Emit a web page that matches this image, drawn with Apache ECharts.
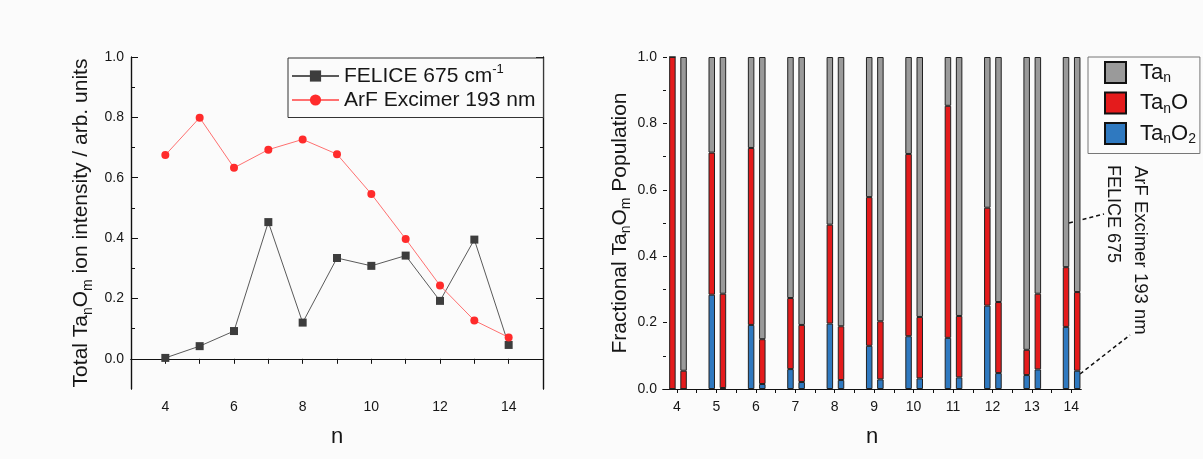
<!DOCTYPE html>
<html>
<head>
<meta charset="utf-8">
<script src="https://cdn.jsdelivr.net/npm/echarts@6/dist/echarts.min.js"></script>
<style>
html,body{margin:0;padding:0;background:#fbfbfb;}
#c{width:1203px;height:459px;}
</style>
</head>
<body>
<div id="c"></div>
<script>
// ---- data ----
const nValues = [4, 5, 6, 7, 8, 9, 10, 11, 12, 13, 14];
// left panel: total ion intensity
const feliceTotal = [0.003, 0.042, 0.092, 0.453, 0.120, 0.334, 0.308, 0.342, 0.192, 0.395, 0.046];
const arfTotal    = [0.675, 0.799, 0.633, 0.693, 0.727, 0.678, 0.546, 0.397, 0.243, 0.127, 0.071];
// right panel: fractional population (FELICE 675 = left bar, ArF 193 nm = right bar)
const feliceTaO2 = [0.000, 0.284, 0.193, 0.060, 0.197, 0.130, 0.159, 0.154, 0.251, 0.042, 0.187];
const feliceTaO  = [1.000, 0.428, 0.533, 0.214, 0.298, 0.448, 0.549, 0.699, 0.295, 0.076, 0.180];
const feliceTa   = [0.000, 0.288, 0.274, 0.726, 0.505, 0.422, 0.292, 0.147, 0.454, 0.882, 0.633];
const arfTaO2 = [0.000, 0.003, 0.015, 0.021, 0.027, 0.029, 0.032, 0.035, 0.048, 0.059, 0.055];
const arfTaO  = [0.055, 0.284, 0.135, 0.172, 0.162, 0.175, 0.185, 0.185, 0.214, 0.228, 0.237];
const arfTa   = [0.945, 0.713, 0.850, 0.807, 0.811, 0.796, 0.783, 0.780, 0.738, 0.713, 0.708];
// tick labels
const leftYLabels = [0, 0.2, 0.4, 0.6, 0.8, 1.0];
const leftYMinor  = [0.1, 0.3, 0.5, 0.7, 0.9];
const rightXTicks = [4, 4.5, 5, 5.5, 6, 6.5, 7, 7.5, 8, 8.5, 9, 9.5, 10, 10.5, 11, 11.5, 12, 12.5, 13, 13.5, 14];

const FONT = '"Liberation Sans", Arial, sans-serif';
const TXT = '#161616';
const pair = (xs, ys) => xs.map((x, i) => [x, ys[i]]);

const chart = echarts.init(document.getElementById('c'), null, {renderer: 'canvas'});

const C_GRAY = '#9a9a9a', C_RED = '#e41b1c', C_BLUE = '#2f79c0';
const nameRich = {
  t: {fontSize: 21, fontFamily: FONT, color: TXT, lineHeight: 27},
  s: {fontSize: 14, fontFamily: FONT, color: TXT, lineHeight: 14, verticalAlign: 'bottom'}
};
const tickLabel = {fontSize: 14, fontFamily: FONT, color: TXT};
const axLine = {show: true, lineStyle: {color: '#111', width: 1.2}};

function barSeries(name, stack, data, color) {
  return {
    type: 'bar', name: name, stack: stack, xAxisIndex: 4, yAxisIndex: 6,
    data: data, barWidth: 6.5, barGap: '72%',
    itemStyle: {color: color, borderColor: '#222', borderWidth: 1},
    emphasis: {disabled: true}
  };
}

const option = {
  backgroundColor: '#fbfbfb',
  animation: false,
  textStyle: {fontFamily: FONT},
  grid: [
    {left: 131, top: 57, width: 412, height: 332},
    {left: 663, top: 57, width: 418, height: 332},
    {left: 658.3, top: 57, width: 433, height: 332}
  ],
  xAxis: [
    {gridIndex: 0, type: 'value', position: 'bottom', min: 3, max: 15, interval: 1,
     axisLine: axLine, splitLine: {show: false},
     axisTick: {show: true, inside: false, length: 5, lineStyle: {color: '#111'}},
     axisLabel: Object.assign({margin: 11, formatter: v => (v % 2 === 0 && v >= 4 && v <= 14) ? String(v) : ''}, tickLabel),
     name: 'n', nameLocation: 'middle', nameGap: 37,
     nameTextStyle: {fontSize: 22, fontFamily: FONT, color: TXT}},
    {gridIndex: 0, type: 'value', position: 'top', min: 3, max: 15,
     axisLine: axLine, axisTick: {show: false}, axisLabel: {show: false}, splitLine: {show: false}},
    {gridIndex: 1, type: 'value', position: 'bottom', min: 3.645, max: 14.245,
     axisLine: axLine, splitLine: {show: false},
     axisTick: {show: true, inside: false, length: 4, customValues: rightXTicks, lineStyle: {color: '#111'}},
     axisLabel: Object.assign({margin: 11, customValues: nValues}, tickLabel),
     name: 'n', nameLocation: 'middle', nameGap: 37,
     nameTextStyle: {fontSize: 22, fontFamily: FONT, color: TXT}},
    {gridIndex: 1, type: 'value', position: 'top', min: 3.645, max: 14.245,
     axisLine: axLine, axisTick: {show: false}, axisLabel: {show: false}, splitLine: {show: false}},
    {gridIndex: 2, type: 'category', data: nValues, boundaryGap: true, show: false}
  ],
  yAxis: [
    {gridIndex: 0, type: 'value', position: 'left', min: -0.1, max: 1.0,
     axisLine: axLine, splitLine: {show: false},
     axisTick: {show: true, inside: true, length: 7, customValues: leftYLabels, lineStyle: {color: '#111'}},
     axisLabel: Object.assign({margin: 7, customValues: leftYLabels, formatter: v => v.toFixed(1)}, tickLabel),
     name: '{t|Total Ta}{s|n}{t|O}{s|m}{t| ion intensity / arb. units}',
     nameLocation: 'middle', nameGap: 36, nameTextStyle: {rich: nameRich}},
    {gridIndex: 0, type: 'value', position: 'left', min: -0.1, max: 1.0,
     axisLine: axLine, splitLine: {show: false}, axisLabel: {show: false},
     axisTick: {show: true, inside: true, length: 4, customValues: leftYMinor, lineStyle: {color: '#111'}}},
    {gridIndex: 0, type: 'value', position: 'right', min: -0.1, max: 1.0,
     axisLine: axLine, splitLine: {show: false}, axisLabel: {show: false},
     axisTick: {show: true, inside: true, length: 7, customValues: leftYLabels, lineStyle: {color: '#111'}}},
    {gridIndex: 0, type: 'value', position: 'right', min: -0.1, max: 1.0,
     axisLine: axLine, splitLine: {show: false}, axisLabel: {show: false},
     axisTick: {show: true, inside: true, length: 3, customValues: leftYMinor, lineStyle: {color: '#111'}}},
    {gridIndex: 1, type: 'value', position: 'left', min: 0, max: 1.0,
     axisLine: {show: false}, splitLine: {show: false},
     axisTick: {show: true, inside: true, length: 4, customValues: leftYLabels, lineStyle: {color: '#111'}},
     axisLabel: Object.assign({margin: 6, customValues: leftYLabels, formatter: v => v.toFixed(1)}, tickLabel),
     name: '{t|Fractional Ta}{s|n}{t|O}{s|m}{t| Population}',
     nameLocation: 'middle', nameGap: 28, nameTextStyle: {rich: nameRich}},
    {gridIndex: 1, type: 'value', position: 'left', min: 0, max: 1.0,
     axisLine: {show: false}, splitLine: {show: false}, axisLabel: {show: false},
     axisTick: {show: true, inside: true, length: 3, customValues: leftYMinor, lineStyle: {color: '#111'}}},
    {gridIndex: 2, type: 'value', min: 0, max: 1.0, show: false}
  ],
  legend: [
    {show: true, orient: 'vertical', left: 288, top: 58, align: 'left',
     data: ['felice', 'arf'], itemWidth: 47, itemHeight: 14, itemGap: 3,
     padding: [5, 8, 7, 3], borderColor: '#333', borderWidth: 1, backgroundColor: '#fbfbfb',
     formatter: n => n === 'felice' ? '{t|FELICE 675 cm}{u|-1}' : '{t|ArF Excimer 193 nm}',
     textStyle: {rich: {
       t: {fontSize: 21, fontFamily: FONT, color: TXT, lineHeight: 26},
       u: {fontSize: 13, fontFamily: FONT, color: TXT, lineHeight: 13, verticalAlign: 'top'}
     }}},
    {show: true, orient: 'vertical', left: 1088, top: 57, align: 'left',
     data: ['Tan', 'TanO', 'TanO2'], itemWidth: 21, itemHeight: 21, itemGap: 6,
     icon: 'rect', padding: [4, 4, 7, 16], borderColor: '#777', borderWidth: 1,
     itemStyle: {borderColor: '#111', borderWidth: 2},
     formatter: n => n === 'Tan' ? '{t|Ta}{s|n}' : (n === 'TanO' ? '{t|Ta}{s|n}{t|O}' : '{t|Ta}{s|n}{t|O}{s|2}'),
     textStyle: {padding: [0, 0, 0, 9], rich: {
       t: {fontSize: 22, fontFamily: FONT, color: TXT, lineHeight: 26},
       s: {fontSize: 14, fontFamily: FONT, color: TXT, lineHeight: 14, verticalAlign: 'bottom'}
     }}}
  ],
  series: [
    {type: 'line', name: 'felice', xAxisIndex: 0, yAxisIndex: 0, data: pair(nValues, feliceTotal),
     symbol: 'rect', symbolSize: 8, itemStyle: {color: '#3d3d3d'},
     lineStyle: {color: '#5a5a5a', width: 1}, emphasis: {disabled: true}},
    {type: 'line', name: 'arf', xAxisIndex: 0, yAxisIndex: 0, data: pair(nValues, arfTotal),
     symbol: 'circle', symbolSize: 8, itemStyle: {color: '#ff2b2b'},
     lineStyle: {color: '#ff7070', width: 1}, emphasis: {disabled: true}},
    barSeries('TanO2', 'felice', feliceTaO2, C_BLUE),
    barSeries('TanO', 'felice', feliceTaO, C_RED),
    barSeries('Tan', 'felice', feliceTa, C_GRAY),
    barSeries('TanO2', 'arf', arfTaO2, C_BLUE),
    barSeries('TanO', 'arf', arfTaO, C_RED),
    barSeries('Tan', 'arf', arfTa, C_GRAY)
  ],
  graphic: [
    {type: 'text', x: 1113, y: 165, rotation: -Math.PI / 2,
     style: {text: 'FELICE 675', fontSize: 18, fontFamily: FONT, fill: TXT, align: 'left', verticalAlign: 'middle'}},
    {type: 'text', x: 1140, y: 166, rotation: -Math.PI / 2,
     style: {text: 'ArF Excimer 193 nm', fontSize: 18.5, fontFamily: FONT, fill: TXT, align: 'left', verticalAlign: 'middle'}},
    {type: 'line', shape: {x1: 1069, y1: 223, x2: 1104, y2: 214},
     style: {stroke: '#111', lineWidth: 1.5, lineDash: [4, 3]}},
    {type: 'line', shape: {x1: 1080, y1: 374, x2: 1130, y2: 335},
     style: {stroke: '#111', lineWidth: 1.5, lineDash: [4, 3]}}
  ]
};
chart.setOption(option);
</script>
</body>
</html>
